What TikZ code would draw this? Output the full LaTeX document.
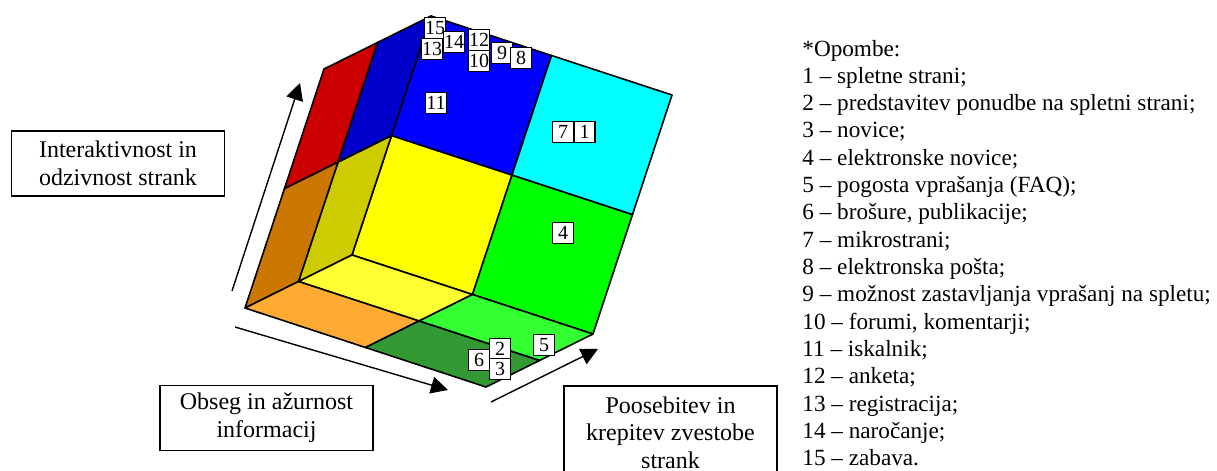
\documentclass[tikz,border=0pt]{standalone}
\usepackage{fontspec}
\setmainfont{Liberation Serif}
\usetikzlibrary{arrows.meta}
\definecolor{cYellow}{RGB}{255,255,0}
\definecolor{cGreen}{RGB}{0,255,0}
\definecolor{cBlue}{RGB}{0,0,255}
\definecolor{cCyan}{RGB}{0,255,255}
\definecolor{cOlive}{RGB}{204,204,0}
\definecolor{cBrown}{RGB}{204,119,0}
\definecolor{cDarkBlue}{RGB}{0,0,204}
\definecolor{cRed}{RGB}{204,0,0}
\definecolor{cLightYellow}{RGB}{255,255,51}
\definecolor{cLightOrange}{RGB}{255,170,51}
\definecolor{cBrightGreen}{RGB}{51,255,51}
\definecolor{cDarkGreen}{RGB}{51,153,51}
\begin{document}
\begin{tikzpicture}[x=0.5pt,y=-0.5pt,
  face/.style={draw=black,line width=0.8pt,line join=round},
  numbox/.style={draw=black,fill=white,line width=0.6pt,inner sep=0pt,minimum width=10.5pt,minimum height=10.5pt,font=\fontsize{10}{12}\selectfont},
  labelbox/.style={draw=black,line width=0.75pt,align=center,font=\fontsize{12}{13.8}\selectfont,minimum width=106.5pt,inner sep=0pt},
  axisarrow/.style={-{Triangle[length=8.5pt,width=8.5pt]},line width=0.7pt},
  legendline/.style={anchor=base west,inner sep=0pt,font=\fontsize{11.6}{13.8}\selectfont}]
\useasboundingbox (0,0) rectangle (1217,471);

% cube: inside corner of a box, three 2x2 walls
\begin{scope}[shift={(352,255)}, x={(60.25pt,-19.75pt)}, y={(19.75pt,59.75pt)}, z={(-26.75pt,-13.25pt)}]
  % back wall (z=0)
  \filldraw[face,fill=cYellow] (0,0,0) -- (1,0,0) -- (1,1,0) -- (0,1,0) -- cycle;
  \filldraw[face,fill=cGreen] (1,0,0) -- (2,0,0) -- (2,1,0) -- (1,1,0) -- cycle;
  \filldraw[face,fill=cBlue] (0,1,0) -- (1,1,0) -- (1,2,0) -- (0,2,0) -- cycle;
  \filldraw[face,fill=cCyan] (1,1,0) -- (2,1,0) -- (2,2,0) -- (1,2,0) -- cycle;
  % left wall (x=0)
  \filldraw[face,fill=cOlive] (0,0,0) -- (0,0,1) -- (0,1,1) -- (0,1,0) -- cycle;
  \filldraw[face,fill=cBrown] (0,0,1) -- (0,0,2) -- (0,1,2) -- (0,1,1) -- cycle;
  \filldraw[face,fill=cDarkBlue] (0,1,0) -- (0,1,1) -- (0,2,1) -- (0,2,0) -- cycle;
  \filldraw[face,fill=cRed] (0,1,1) -- (0,1,2) -- (0,2,2) -- (0,2,1) -- cycle;
  % floor (y=0)
  \filldraw[face,fill=cLightYellow] (0,0,0) -- (1,0,0) -- (1,0,1) -- (0,0,1) -- cycle;
  \filldraw[face,fill=cLightOrange] (0,0,1) -- (1,0,1) -- (1,0,2) -- (0,0,2) -- cycle;
  \filldraw[face,fill=cBrightGreen] (1,0,0) -- (2,0,0) -- (2,0,1) -- (1,0,1) -- cycle;
  \filldraw[face,fill=cDarkGreen] (1,0,1) -- (2,0,1) -- (2,0,2) -- (1,0,2) -- cycle;
\end{scope}

% number boxes
\node[numbox] (n15) at (435,28) {15};
\node[numbox] (n13) at (432,49) {13};
\node[numbox] (n14) at (454,42) {14};
\node[numbox] (n12) at (479,40) {12};
\node[numbox] (n10) at (479,61) {10};
\node[numbox] (n9) at (502,53) {9};
\node[numbox] (n8) at (521,58) {8};
\node[numbox] (n11) at (436,103) {11};
\node[numbox] (n7) at (563,132) {7};
\node[numbox] (n1) at (584.5,132) {1};
\node[numbox] (n4) at (563,233) {4};
\node[numbox] (n5) at (544,345) {5};
\node[numbox] (n2) at (500,349) {2};
\node[numbox] (n3) at (500,369) {3};
\node[numbox] (n6) at (479,360) {6};

% axis arrows
\coordinate (a1s) at (232,291);
\coordinate (a1e) at (300,83);
\coordinate (a2s) at (235,327);
\coordinate (a2e) at (448,390);
\coordinate (a3s) at (491,402);
\coordinate (a3e) at (598,349);
\draw[axisarrow] (a1s) -- (a1e);
\draw[axisarrow] (a2s) -- (a2e);
\draw[axisarrow] (a3s) -- (a3e);

% axis label boxes
\node[labelbox,minimum height=32.5pt] (lab1) at (118,163.5) {Interaktivnost in\\odzivnost strank};
\node[labelbox,minimum height=32.5pt] (lab2) at (266.5,418) {Obseg in ažurnost\\informacij};
\node[labelbox,minimum height=46.5pt] (lab3) at (670.5,432.5) {Poosebitev in\\krepitev zvestobe\\strank};

% legend
\foreach \i/\t in {0/{*Opombe:},
  1/{1 – spletne strani;},
  2/{2 – predstavitev ponudbe na spletni strani;},
  3/{3 – novice;},
  4/{4 – elektronske novice;},
  5/{5 – pogosta vprašanja (FAQ);},
  6/{6 – brošure, publikacije;},
  7/{7 – mikrostrani;},
  8/{8 – elektronska pošta;},
  9/{9 – možnost zastavljanja vprašanj na spletu;},
  10/{10 – forumi, komentarji;},
  11/{11 – iskalnik;},
  12/{12 – anketa;},
  13/{13 – registracija;},
  14/{14 – naročanje;},
  15/{15 – zabava.}}
  \node[legendline] (leg\i) at (802,{56+\i*27.33}) {\t};
\end{tikzpicture}
\end{document}
